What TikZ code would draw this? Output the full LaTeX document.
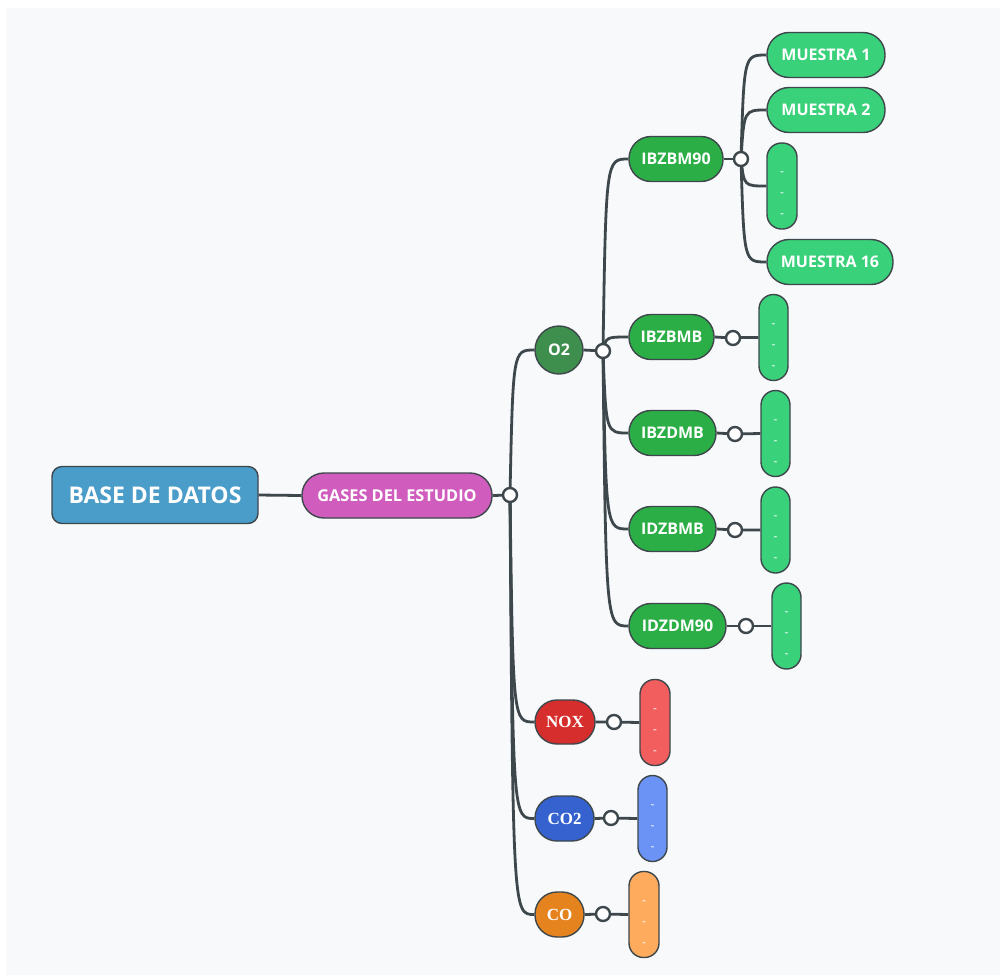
\documentclass[tikz,border=0pt]{standalone}
\usepackage{fontspec}
\setmainfont{Open Sans}
\newfontfamily\seriffam{Liberation Serif}
\usetikzlibrary{calc}
\pgfdeclarelayer{canvas}
\pgfdeclarelayer{wires}
\pgfsetlayers{canvas,wires,main}

\definecolor{paper}{HTML}{F7F9FA}
\definecolor{wire}{HTML}{3D474C}
\definecolor{rootblue}{HTML}{4A9CC9}
\definecolor{gasmag}{HTML}{D05DBE}
\definecolor{otwo}{HTML}{3E8E4E}
\definecolor{groupgreen}{HTML}{2BAE45}
\definecolor{leafgreen}{HTML}{3AD17B}
\definecolor{noxred}{HTML}{D62D2D}
\definecolor{noxleaf}{HTML}{F25D5E}
\definecolor{cotwoblue}{HTML}{3562CF}
\definecolor{cotwoleaf}{HTML}{6A93F5}
\definecolor{coorange}{HTML}{E5831F}
\definecolor{coleaf}{HTML}{FFAB5E}

\tikzset{
  box/.style={draw=wire, line width=1.4pt, text=white, inner sep=0pt,
    font=\bfseries\fontsize{16}{18}\selectfont},
  pill/.style={box, rectangle, rounded corners=22pt, minimum height=45pt},
  dotsbox/.style={box, rectangle, rounded corners=14.5pt, minimum height=86pt,
    align=center, font=\fontsize{12}{21}\selectfont},
  junction/.style={circle, draw=wire, fill=white, line width=2.4pt,
    minimum size=14pt, inner sep=0pt},
  wirestyle/.style={draw=wire, line width=2.8pt},
  serifnode/.style={font=\seriffam\bfseries\fontsize{17}{19}\selectfont}
}

% curved branch from a junction into the left side of a child
\newcommand{\branch}[2]{%
  \draw[wirestyle] (#1.center) .. controls ($(#1.center |- #2.west)+(3,0)$) .. (#2.west);}
% three stacked dashes, set a little below the middle of their box
\newcommand{\dashstack}{\mbox{}\\-\\-\\-}

\begin{document}
\begin{tikzpicture}[x=1pt, y=-1pt]
\useasboundingbox (0,0) rectangle (1000,975);
\begin{pgfonlayer}{canvas}
  \fill[white] (0,0) rectangle (1000,975);
  \fill[paper] (6,8) rectangle (1000,975);
\end{pgfonlayer}

% root and first level
\node[box, rectangle, rounded corners=10pt, fill=rootblue, minimum width=206pt,
  minimum height=57pt, font=\bfseries\fontsize{23}{26}\selectfont] (root) at (155,495) {BASE DE DATOS};
\node[pill, fill=gasmag, minimum width=190pt, font=\bfseries\fontsize{16.3}{18}\selectfont] (gases) at (397,495.5) {GASES DEL ESTUDIO};
\node[junction] (j0) at (510,495) {};

% gases
\node[box, circle, fill=otwo, minimum size=48pt] (o2) at (559,350) {O2};
\node[pill, fill=noxred, minimum width=60pt, minimum height=44pt, serifnode] (nox) at (565,722) {NOX};
\node[pill, fill=cotwoblue, minimum width=59pt, serifnode] (co2) at (564.5,818.5) {CO2};
\node[pill, fill=coorange, minimum width=49pt, serifnode] (co) at (559.5,914.5) {CO};
\node[junction] (j1) at (603,351) {};
\node[junction] (j7) at (614,722) {};
\node[junction] (j8) at (611,818) {};
\node[junction] (j9) at (603,914) {};
\node[dotsbox, fill=noxleaf, minimum width=30pt] (noxd) at (655,722.5) {\dashstack};
\node[dotsbox, fill=cotwoleaf, minimum width=29pt] (co2d) at (652.5,818.5) {\dashstack};
\node[dotsbox, fill=coleaf, minimum width=30pt] (cod) at (644,914.5) {\dashstack};

% O2 groups
\node[pill, fill=groupgreen, minimum width=94pt] (g1) at (676,159) {IBZBM90};
\node[pill, fill=groupgreen, minimum width=85pt] (g2) at (671.5,337) {IBZBMB};
\node[pill, fill=groupgreen, minimum width=87pt] (g3) at (672.5,433) {IBZDMB};
\node[pill, fill=groupgreen, minimum width=87pt] (g4) at (672.5,529) {IDZBMB};
\node[pill, fill=groupgreen, minimum width=97pt] (g5) at (677.5,626) {IDZDM90};
\node[junction] (j2) at (741,159) {};
\node[junction] (j3) at (733,338) {};
\node[junction] (j4) at (735,434) {};
\node[junction] (j5) at (735,530) {};
\node[junction] (j6) at (746,626) {};

% samples
\node[pill, fill=leafgreen, minimum width=118pt] (m1) at (826,55) {MUESTRA 1};
\node[pill, fill=leafgreen, minimum width=118pt] (m2) at (826,110) {MUESTRA 2};
\node[dotsbox, fill=leafgreen, minimum width=30pt] (md) at (782,186) {\dashstack};
\node[pill, fill=leafgreen, minimum width=126pt] (m16) at (830,262) {MUESTRA 16};
\node[dotsbox, fill=leafgreen, minimum width=29pt] (d2) at (773.5,337.5) {\dashstack};
\node[dotsbox, fill=leafgreen, minimum width=29pt] (d3) at (775.5,433.5) {\dashstack};
\node[dotsbox, fill=leafgreen, minimum width=29pt] (d4) at (775.5,530) {\dashstack};
\node[dotsbox, fill=leafgreen, minimum width=29pt] (d5) at (786.5,626) {\dashstack};

\begin{pgfonlayer}{wires}
  \draw[wirestyle] (root.east) -- (gases.west);
  \draw[wirestyle] (gases.east) -- (j0.center);
  \branch{j0}{o2}
  \branch{j0}{nox}
  \branch{j0}{co2}
  \branch{j0}{co}
  \draw[wirestyle] (o2.east) -- (j1.center);
  \branch{j1}{g1}
  \branch{j1}{g2}
  \branch{j1}{g3}
  \branch{j1}{g4}
  \branch{j1}{g5}
  \draw[wirestyle] (g1.east) -- (j2.center);
  \branch{j2}{m1}
  \branch{j2}{m2}
  \branch{j2}{md}
  \branch{j2}{m16}
  \draw[wirestyle] (g2.east) -- (j3.center) -- (d2.west -| j3.center) -- (d2.west);
  \draw[wirestyle] (g3.east) -- (j4.center) -- (d3.west);
  \draw[wirestyle] (g4.east) -- (j5.center) -- (d4.west);
  \draw[wirestyle] (g5.east) -- (j6.center) -- (d5.west);
  \draw[wirestyle] (nox.east) -- (j7.center) -- (noxd.west);
  \draw[wirestyle] (co2.east) -- (j8.center) -- (co2d.west);
  \draw[wirestyle] (co.east) -- (j9.center) -- (cod.west);
\end{pgfonlayer}
\end{tikzpicture}
\end{document}
